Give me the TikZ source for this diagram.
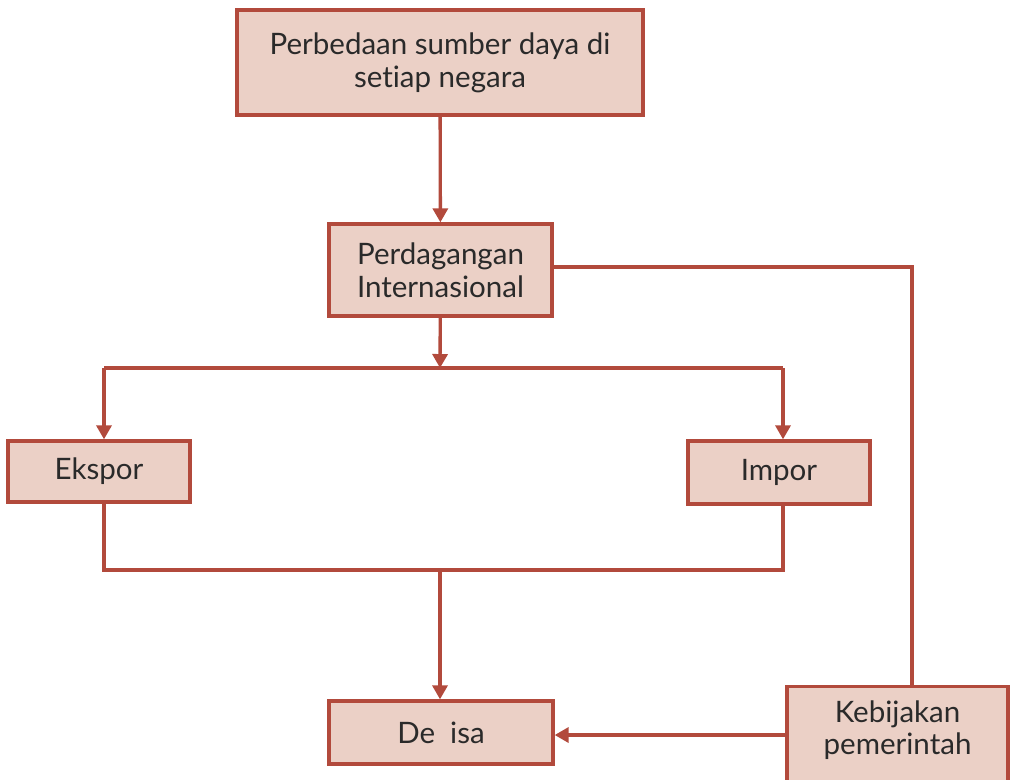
\documentclass[tikz,border=0pt]{standalone}
\usepackage{fontspec}
\setmainfont{Lato}[Ligatures=NoCommon]
\usetikzlibrary{arrows.meta}
\definecolor{boxline}{HTML}{B24A3C}
\definecolor{boxfill}{HTML}{EBD0C6}
\definecolor{boxtext}{HTML}{2A2A2A}
\tikzset{
  flowbox/.style={draw=boxline, fill=boxfill, line width=1.9pt, text=boxtext,
    align=center, font=\fontsize{16.8}{18.6}\selectfont, inner sep=0pt},
  flowline/.style={draw=boxline, line width=1.9pt},
  flowarrow/.style={flowline, -{Triangle[length=0.28cm,width=0.3cm]}}
}
\begin{document}
\begin{tikzpicture}[x=0.02cm, y=-0.02cm]
  \useasboundingbox (0, 0) rectangle (1010, 779);

  %%%%% BOXES %%%%%
  \node[flowbox, minimum width=8.12cm, minimum height=2.1cm] (sumber) at (440, 62.5)
    {Perbedaan sumber daya di\\setiap negara};
  \node[flowbox, minimum width=4.46cm, minimum height=1.84cm] (dagang) at (440.5, 270)
    {Perdagangan\\Internasional};
  \node[flowbox, minimum width=3.64cm, minimum height=1.22cm] (ekspor) at (99, 471.5) {Ekspor};
  \node[flowbox, minimum width=3.64cm, minimum height=1.26cm] (impor) at (779, 472.5) {Impor};
  \node[flowbox, minimum width=4.48cm, minimum height=1.26cm] (devisa) at (441, 732.5) {De\ \ isa};
  \begin{scope}
    \clip (0, 0) rectangle (1010, 779);
    \node[flowbox, minimum width=4.42cm, minimum height=2.3cm, anchor=north] (bijak) at (897.5, 685) {};
  \end{scope}
  \node[flowbox, draw=none, fill=none] (bijaktext) at (897.5, 730) {Kebijakan\\pemerintah};

  %%%%% JUNCTIONS %%%%%
  \coordinate (pecah) at (440, 368);
  \coordinate (pecahL) at (104, 368);
  \coordinate (pecahR) at (783, 368);
  \coordinate (gabung) at (440, 570);
  \coordinate (gabungL) at (104, 570);
  \coordinate (gabungR) at (783, 570);
  \coordinate (belok) at (912, 267);

  %%%%% CONNECTORS %%%%%
  \draw[flowarrow] (sumber) -- (dagang);
  \draw[flowarrow] (dagang) -- (pecah);
  \draw[flowline] (pecahL) -- (pecahR);
  \draw[flowarrow] (pecahL) -- (pecahL |- ekspor.north);
  \draw[flowarrow] (pecahR) -- (pecahR |- impor.north);
  \draw[flowline] (gabungL |- ekspor.south) -- (gabungL) -- (gabungR) -- (gabungR |- impor.south);
  \draw[flowarrow] (gabung) -- (gabung |- devisa.north);
  \draw[flowline] (dagang.east |- belok) -- (belok) -- (belok |- bijak.north);
  \draw[flowarrow] (bijak.west |- 0, 735) -- (devisa.east |- 0, 735);
\end{tikzpicture}
\end{document}
